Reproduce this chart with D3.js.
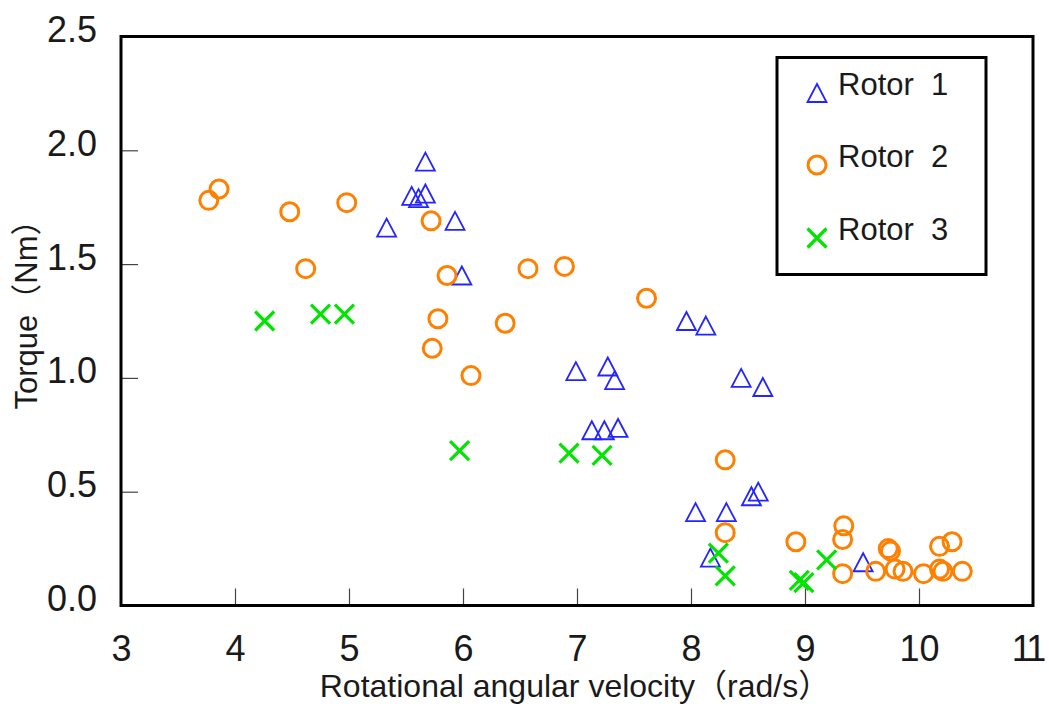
<!DOCTYPE html>
<html>
<head>
<meta charset="utf-8">
<script src="https://cdn.jsdelivr.net/npm/d3@7"></script>
<style>
  html, body { margin: 0; padding: 0; background: #fff; }
  svg text { font-family: "Liberation Sans", Arial, "Noto Sans CJK JP", sans-serif; fill: #1a1a1a; }
</style>
</head>
<body>
<svg id="chart" width="1049" height="704"></svg>
<script>
// ---- data ----
const seriesNames = ["Rotor  1", "Rotor  2", "Rotor  3"];
const xTicks = [3, 4, 5, 6, 7, 8, 9, 10, 11];
const yTicks = [0.0, 0.5, 1.0, 1.5, 2.0, 2.5];
const xTitle = "Rotational angular velocity（rad/s）";
const yTitle = "Torque（Nm）";

const rotor1X = [5.67, 5.55, 5.61, 5.67, 5.33, 5.93, 5.99, 6.99, 7.27, 7.33, 7.13, 7.24, 7.36,
                 7.96, 8.13, 8.44, 8.63, 8.04, 8.31, 8.53, 8.59, 8.17, 9.51];
const rotor1Y = [1.95, 1.80, 1.79, 1.81, 1.66, 1.69, 1.45, 1.03, 1.05, 0.99, 0.77, 0.77, 0.78,
                 1.25, 1.23, 1.00, 0.96, 0.41, 0.41, 0.48, 0.50, 0.21, 0.19];

const rotor2X = [3.77, 3.86, 4.48, 4.98, 4.62, 5.72, 5.86, 5.78, 5.73, 6.07, 6.37, 6.57, 6.89,
                 7.61, 8.30, 8.30, 8.92, 9.34, 9.33, 9.33, 9.62, 9.73, 9.75, 9.79, 9.86,
                 10.04, 10.18, 10.29, 10.18, 10.21, 10.38];
const rotor2Y = [1.78, 1.83, 1.73, 1.77, 1.48, 1.69, 1.45, 1.26, 1.13, 1.01, 1.24, 1.48, 1.49,
                 1.35, 0.64, 0.32, 0.28, 0.35, 0.29, 0.14, 0.15, 0.25, 0.24, 0.16, 0.15,
                 0.14, 0.26, 0.28, 0.16, 0.15, 0.15];

const rotor3X = [4.26, 4.75, 4.96, 5.97, 6.93, 7.22, 8.24, 8.30, 8.95, 8.99, 9.19];
const rotor3Y = [1.25, 1.28, 1.28, 0.68, 0.67, 0.66, 0.23, 0.13, 0.11, 0.10, 0.20];

const colors = ["#2424ff", "#ff8000", "#00e400"];

// ---- layout ----
const svg = d3.select("#chart");
const mLeft = 121, mRight = 1033, mTop = 36.5, mBottom = 605.5;

const x = d3.scaleLinear().domain([3, 11]).range([mLeft, mRight]);
const y = d3.scaleLinear().domain([0, 2.5]).range([mBottom, mTop]);

// inner ticks
const xAxis = d3.axisBottom(x).tickValues(xTicks).tickSize(-17).tickFormat(d => d);
const yAxis = d3.axisLeft(y).tickValues(yTicks).tickSize(-17).tickFormat(d3.format(".1f"));

const gx = svg.append("g").attr("transform", `translate(0,${mBottom})`).call(xAxis);
gx.select(".domain").remove();
gx.selectAll(".tick line").attr("stroke", "#444").attr("stroke-width", 1.2);
gx.selectAll(".tick text").attr("font-size", 36).attr("dy", 0).attr("y", 55)
  .style("font-family", '"Liberation Sans", Arial, sans-serif').attr("fill", "#1a1a1a");
// last label sits against the page edge in the reference
gx.selectAll(".tick text").filter(d => d === 11).attr("dx", -6).attr("letter-spacing", -3);

const gy = svg.append("g").attr("transform", `translate(${mLeft},0)`).call(yAxis);
gy.select(".domain").remove();
gy.selectAll(".tick line").attr("stroke", "#444").attr("stroke-width", 1.2);
gy.selectAll(".tick text").attr("font-size", 36).attr("x", -24).attr("dy", 5)
  .style("font-family", '"Liberation Sans", Arial, sans-serif').attr("fill", "#1a1a1a");
// hide tick lines at the frame edges
gx.selectAll(".tick line").filter(d => d === 3 || d === 11).remove();
gy.selectAll(".tick line").filter(d => d === 0 || d === 2.5).remove();

// frame
svg.append("rect")
  .attr("x", mLeft).attr("y", mTop)
  .attr("width", mRight - mLeft).attr("height", mBottom - mTop)
  .attr("fill", "none").attr("stroke", "#000").attr("stroke-width", 3);

// axis titles
svg.append("text")
  .attr("x", (mLeft + mRight) / 2 - 2).attr("y", 697)
  .attr("text-anchor", "middle").attr("font-size", 32)
  .text(xTitle);

svg.append("text")
  .attr("transform", `translate(37,307) rotate(-90)`)
  .attr("text-anchor", "middle").attr("font-size", 31)
  .text(yTitle);

// ---- marker drawing ----
function triPath(cx, cy) {
  const w = 19, h = 18;
  return `M${cx},${cy - h / 2}L${cx + w / 2},${cy + h / 2}L${cx - w / 2},${cy + h / 2}Z`;
}
function crossPath(cx, cy) {
  const s = 9.5;
  return `M${cx - s},${cy - s}L${cx + s},${cy + s}M${cx - s},${cy + s}L${cx + s},${cy - s}`;
}

const plot = svg.append("g");

const r1 = rotor1X.map((v, i) => ({ x: v, y: rotor1Y[i] }));
const r2 = rotor2X.map((v, i) => ({ x: v, y: rotor2Y[i] }));
const r3 = rotor3X.map((v, i) => ({ x: v, y: rotor3Y[i] }));

plot.selectAll("path.r1").data(r1).join("path").attr("class", "r1")
  .attr("d", d => triPath(x(d.x), y(d.y)))
  .attr("fill", "none").attr("stroke", colors[0]).attr("stroke-width", 1.8);

plot.selectAll("circle.r2").data(r2).join("circle").attr("class", "r2")
  .attr("cx", d => x(d.x)).attr("cy", d => y(d.y)).attr("r", 9)
  .attr("fill", "none").attr("stroke", colors[1]).attr("stroke-width", 3);

plot.selectAll("path.r3").data(r3).join("path").attr("class", "r3")
  .attr("d", d => crossPath(x(d.x), y(d.y)))
  .attr("fill", "none").attr("stroke", colors[2]).attr("stroke-width", 3.2);

// ---- legend ----
const lg = svg.append("g");
lg.append("rect").attr("x", 777).attr("y", 57.5).attr("width", 209).attr("height", 217)
  .attr("fill", "#fff").attr("stroke", "#000").attr("stroke-width", 3);

const legRows = [93, 165, 238];
seriesNames.forEach((name, i) => {
  const my = legRows[i];
  if (i === 0) {
    lg.append("path").attr("d", triPath(817, my)).attr("fill", "none")
      .attr("stroke", colors[0]).attr("stroke-width", 1.8);
  } else if (i === 1) {
    lg.append("circle").attr("cx", 817).attr("cy", my).attr("r", 9)
      .attr("fill", "none").attr("stroke", colors[1]).attr("stroke-width", 3);
  } else {
    lg.append("path").attr("d", crossPath(817, my)).attr("fill", "none")
      .attr("stroke", colors[2]).attr("stroke-width", 3.2);
  }
  lg.append("text").attr("x", 838).attr("y", my + 2)
    .attr("font-size", 31).style("white-space", "pre").text(name);
});
</script>
</body>
</html>
